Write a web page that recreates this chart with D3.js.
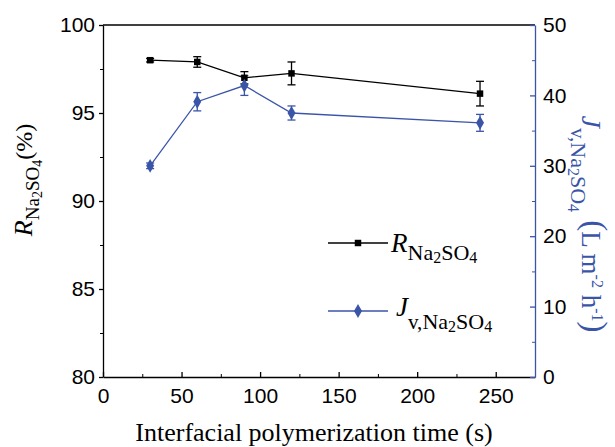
<!DOCTYPE html>
<html>
<head>
<meta charset="utf-8">
<script src="https://cdn.jsdelivr.net/npm/d3@7"></script>
<style>
  body { margin: 0; background: #fff; }
  text { fill: #000; }
</style>
</head>
<body>
<div id="chart"></div>
<script>
// data
var times = [30, 60, 90, 120, 240];
var rejection = [98.0, 97.9, 97.0, 97.25, 96.1];
var rejectionErr = [0.1, 0.3, 0.35, 0.65, 0.7];
var flux = [30.0, 39.1, 41.4, 37.5, 36.1];
var fluxErr = [0.4, 1.3, 1.4, 1.0, 1.2];
var xTicks = [0, 50, 100, 150, 200, 250];
var yLeftTicks = [80, 85, 90, 95, 100];
var yRightTicks = [0, 10, 20, 30, 40, 50];

var blue = "#3a55a8";

var margin = {top: 25, right: 80, bottom: 70, left: 103},
    width = 615 - margin.left - margin.right,
    height = 447 - margin.top - margin.bottom;

var svg = d3.select("#chart")
  .append("svg")
    .attr("width", 615)
    .attr("height", 447);

var g = svg.append("g")
    .attr("transform", "translate(" + margin.left + "," + margin.top + ")");

var x = d3.scaleLinear().domain([0, 275]).range([0, width]);
var y1 = d3.scaleLinear().domain([80, 100]).range([height, 0]);
var y2 = d3.scaleLinear().domain([0, 50]).range([height, 0]);

// top frame line
g.append("line")
  .attr("x1", 0).attr("x2", width)
  .attr("y1", 0).attr("y2", 0)
  .attr("stroke", "#000").attr("stroke-width", 1.3);

// minor ticks
g.append("g")
  .attr("transform", "translate(0," + height + ")")
  .call(d3.axisBottom(x).tickValues(d3.range(25, 275, 50)).tickSize(-3).tickFormat(""))
  .call(function(s) { s.select(".domain").remove(); });
g.append("g")
  .call(d3.axisLeft(y1).tickValues(d3.range(82.5, 100, 5)).tickSize(3).tickFormat(""))
  .call(function(s) { s.select(".domain").remove(); });
g.append("g")
  .attr("transform", "translate(" + width + ",0)")
  .call(d3.axisRight(y2).tickValues(d3.range(5, 50, 10)).tickSize(-3).tickFormat(""))
  .call(function(s) { s.select(".domain").remove(); s.selectAll("line").attr("stroke", blue); });

// major axes
var xAxis = g.append("g")
  .attr("transform", "translate(0," + height + ")")
  .call(d3.axisBottom(x).tickValues(xTicks).tickSize(-5).tickPadding(11).tickSizeOuter(0));

var yAxis = g.append("g")
  .call(d3.axisLeft(y1).tickValues(yLeftTicks).tickSize(4).tickPadding(4).tickSizeOuter(0));

var y2Axis = g.append("g")
  .attr("transform", "translate(" + width + ",0)")
  .call(d3.axisRight(y2).tickValues(yRightTicks).tickSize(-5).tickPadding(8).tickSizeOuter(0));

[xAxis, yAxis, y2Axis].forEach(function(a) {
  a.selectAll("text")
    .attr("font-family", "Liberation Sans, Arial, sans-serif")
    .attr("font-size", "21px")
    .style("fill", "#000");
  a.selectAll("path, line").attr("stroke-width", 1.3);
});
y2Axis.selectAll("path, line").attr("stroke", blue);

// lines
var lineR = d3.line()
  .x(function(d, i) { return x(times[i]); })
  .y(function(d) { return y1(d); });
var lineJ = d3.line()
  .x(function(d, i) { return x(times[i]); })
  .y(function(d) { return y2(d); });

g.append("path")
  .datum(rejection)
  .attr("d", lineR)
  .attr("fill", "none")
  .attr("stroke", "#000")
  .attr("stroke-width", 1.3);

g.append("path")
  .datum(flux)
  .attr("d", lineJ)
  .attr("fill", "none")
  .attr("stroke", blue)
  .attr("stroke-width", 1.3);

// error bars
function errorBars(vals, errs, scale, color) {
  var eb = g.append("g").attr("stroke", color).attr("stroke-width", 1.3);
  vals.forEach(function(v, i) {
    var cx = x(times[i]);
    var top = scale(v + errs[i]), bot = scale(v - errs[i]);
    eb.append("line").attr("x1", cx).attr("x2", cx).attr("y1", top).attr("y2", bot);
    eb.append("line").attr("x1", cx - 4).attr("x2", cx + 4).attr("y1", top).attr("y2", top);
    eb.append("line").attr("x1", cx - 4).attr("x2", cx + 4).attr("y1", bot).attr("y2", bot);
  });
}
errorBars(rejection, rejectionErr, y1, "#000");
errorBars(flux, fluxErr, y2, blue);

// markers
var square = d3.symbol().type(d3.symbolSquare).size(42);
var diamond = d3.symbol().type(d3.symbolDiamond).size(55);

g.selectAll(".mr")
  .data(rejection)
  .enter().append("path")
  .attr("class", "mr")
  .attr("d", square)
  .attr("transform", function(d, i) { return "translate(" + x(times[i]) + "," + y1(d) + ")"; })
  .attr("fill", "#000");

g.selectAll(".mj")
  .data(flux)
  .enter().append("path")
  .attr("class", "mj")
  .attr("d", diamond)
  .attr("transform", function(d, i) { return "translate(" + x(times[i]) + "," + y2(d) + ")"; })
  .attr("fill", blue);

// rich label: parts = [text, font size, baseline offset (down +), italic]
function richText(t, parts) {
  var prev = 0;
  parts.forEach(function(p) {
    var ts = t.append("tspan")
      .attr("font-size", p[1])
      .attr("dy", p[2] - prev)
      .text(p[0]);
    if (p[3]) ts.attr("font-style", "italic");
    prev = p[2];
  });
}

var serif = "Liberation Serif, Times New Roman, serif";

// legend
var leg = svg.append("g");
leg.append("line").attr("x1", 328).attr("x2", 388).attr("y1", 243).attr("y2", 243)
  .attr("stroke", "#000").attr("stroke-width", 1.3);
leg.append("path").attr("d", square).attr("transform", "translate(358,243)").attr("fill", "#000");
var lt1 = leg.append("text").attr("x", 391).attr("y", 252)
  .attr("font-family", serif);
richText(lt1, [["R", 27, 0, true], ["Na", 22, 8], ["2", 16, 11], ["SO", 22, 8], ["4", 16, 11]]);

leg.append("line").attr("x1", 328).attr("x2", 388).attr("y1", 311).attr("y2", 311)
  .attr("stroke", blue).attr("stroke-width", 1.3);
leg.append("path").attr("d", diamond).attr("transform", "translate(358,311)").attr("fill", blue);
var lt2 = leg.append("text").attr("x", 396).attr("y", 316)
  .attr("font-family", serif);
richText(lt2, [["J", 27, 0, true], ["v,", 21, 13], ["Na", 22, 13], ["2", 16, 16], ["SO", 22, 13], ["4", 16, 16]]);

// x axis title
svg.append("text")
  .attr("x", 314).attr("y", 441)
  .attr("text-anchor", "middle")
  .attr("font-family", serif)
  .attr("font-size", 26)
  .text("Interfacial polymerization time (s)");

// left axis title
var lt = svg.append("text")
  .attr("transform", "translate(32,180) rotate(-90)")
  .attr("text-anchor", "middle")
  .attr("font-family", serif);
richText(lt, [["R", 26, 0, true], ["Na", 19, 7], ["2", 14, 10], ["SO", 19, 7], ["4", 14, 10], ["(%)", 24, 0]]);

// right axis title
var rt = svg.append("text")
  .attr("transform", "translate(582,224) rotate(90)")
  .attr("text-anchor", "middle")
  .attr("font-family", serif)
  .style("fill", blue);
richText(rt, [["J", 28, 0, true], ["v,", 21, 11], ["Na", 22, 11], ["2", 16, 14], ["SO", 22, 11], ["4", 16, 14],
  [" (", 33, -2], ["L m", 27, 0], ["-2", 16, -10], [" h", 27, 0], ["-1", 16, -10], [")", 33, -2]]);
</script>
</body>
</html>
